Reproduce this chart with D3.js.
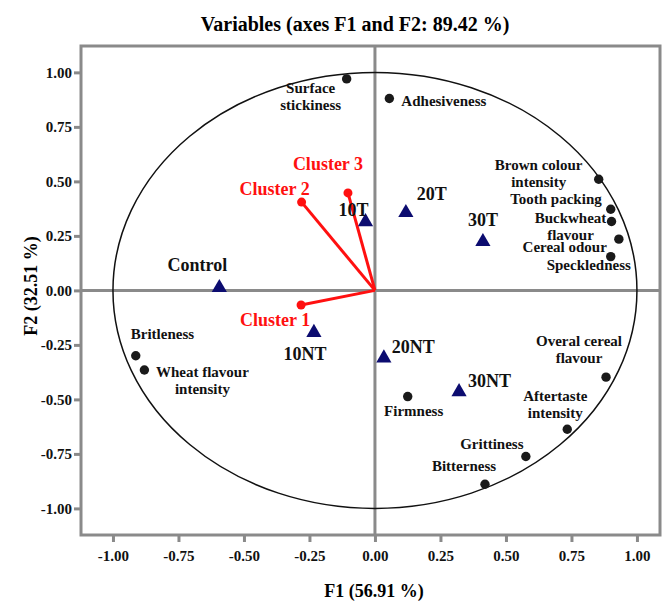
<!DOCTYPE html>
<html>
<head>
<meta charset="utf-8">
<script src="https://cdn.jsdelivr.net/npm/d3@7"></script>
<style>
  body { margin: 0; background: #fff; }
  svg text { font-family: 'Liberation Serif', 'Times New Roman', serif; font-weight: bold; }
</style>
</head>
<body>
<svg id="chart" width="663" height="602"></svg>
<script>
// sensory attributes (black dots)
const attrNames = [
  ['Surface', 'stickiness'], ['Adhesiveness'], ['Brown colour', 'intensity'],
  ['Tooth packing'], ['Buckwheat', 'flavour'], ['Cereal odour'], ['Speckledness'],
  ['Overal cereal', 'flavour'], ['Aftertaste', 'intensity'], ['Grittiness'],
  ['Bitterness'], ['Firmness'], ['Britleness'], ['Wheat flavour', 'intensity']
]
const attrF1 = [-0.108, 0.055, 0.854, 0.900, 0.903, 0.931, 0.900, 0.882, 0.734, 0.576, 0.420, 0.125, -0.913, -0.880]
const attrF2 = [0.970, 0.880, 0.510, 0.372, 0.316, 0.235, 0.155, -0.398, -0.637, -0.762, -0.889, -0.487, -0.300, -0.365]

// products (navy triangles)
const prodNames = ['Control', '10T', '20T', '30T', '10NT', '20NT', '30NT']
const prodF1 = [-0.594, -0.036, 0.118, 0.412, -0.233, 0.034, 0.321]
const prodF2 = [0.017, 0.319, 0.361, 0.228, -0.189, -0.306, -0.461]

// consumer clusters (red vectors)
const clusterNames = ['Cluster 1', 'Cluster 2', 'Cluster 3']
const clusterF1 = [-0.282, -0.280, -0.103]
const clusterF2 = [-0.067, 0.405, 0.447]

const xTicks = [-1, -0.75, -0.5, -0.25, 0, 0.25, 0.5, 0.75, 1]
const yTicks = [-1, -0.75, -0.5, -0.25, 0, 0.25, 0.5, 0.75, 1]

// label placement, pixel offsets from the mark: [dx, dy of first baseline, anchor]
const attrLabelPos = [
  [-36, 14, 'middle'], [12, 7, 'start'], [-60, -9, 'middle'], [-9, -5, 'end'],
  [-41, 2, 'middle'], [-12, 13, 'end'], [-22, 13, 'middle'], [-27, -31, 'middle'],
  [-12, -28, 'middle'], [-34, -8, 'middle'], [-21, -13, 'middle'], [6, 19, 'middle'],
  [-5, -17, 'start'], [58, 7, 'middle']
]
const prodLabelPos = [[-22, -16], [-12, -5], [26, -12], [0, -15], [-9, 28], [8, -4, 'start'], [9, -4, 'start']]
const clusterLabelPos = [[-26, 21], [-27, -7], [-20, -23]]

const svg = d3.select('#chart')
const mLeft = 81, mRight = 660, mTop = 46, mBottom = 535
const grey = '#8a8a8a'

const x = d3.scaleLinear().domain([-1.122, 1.088]).range([mLeft, mRight])
const y = d3.scaleLinear().domain([-1.122, 1.121]).range([mBottom, mTop])

// title
svg.append('text')
  .attr('x', 355).attr('y', 31)
  .attr('text-anchor', 'middle')
  .style('font-size', '20px')
  .text('Variables (axes F1 and F2: 89.42 %)')

// axes
const fmt = d => d.toFixed(2)
const gx = svg.append('g')
  .attr('transform', `translate(0,${mBottom})`)
  .call(d3.axisBottom(x).tickValues(xTicks).tickFormat(fmt).tickSize(7).tickSizeOuter(0))
const gy = svg.append('g')
  .attr('transform', `translate(${mLeft},0)`)
  .call(d3.axisLeft(y).tickValues(yTicks).tickFormat(fmt).tickSize(7).tickSizeOuter(0))
;[gx, gy].forEach(g => {
  g.select('.domain').remove()
  g.selectAll('line').attr('stroke', grey).attr('stroke-width', 3)
  g.selectAll('text').attr('fill', '#111').style('font-size', '15px')
    .style('font-family', "'Liberation Serif', serif").style('font-weight', 'bold')
})
gx.selectAll('text').attr('dy', '1.05em')
gy.selectAll('text').attr('x', -9)

// axis titles
svg.append('text')
  .attr('x', 374).attr('y', 597)
  .attr('text-anchor', 'middle')
  .style('font-size', '18px')
  .text('F1 (56.91 %)')
svg.append('text')
  .attr('transform', `translate(37,286) rotate(-90)`)
  .attr('text-anchor', 'middle')
  .style('font-size', '18px')
  .text('F2 (32.51 %)')

// frame and zero lines
svg.append('rect')
  .attr('x', mLeft).attr('y', mTop)
  .attr('width', mRight - mLeft).attr('height', mBottom - mTop)
  .attr('fill', 'none').attr('stroke', grey).attr('stroke-width', 3)
svg.append('line')
  .attr('x1', x(0)).attr('x2', x(0)).attr('y1', mTop).attr('y2', mBottom)
  .attr('stroke', grey).attr('stroke-width', 3)
svg.append('line')
  .attr('x1', mLeft).attr('x2', mRight).attr('y1', y(0)).attr('y2', y(0))
  .attr('stroke', grey).attr('stroke-width', 3)

// correlation circle
svg.append('ellipse')
  .attr('cx', x(0)).attr('cy', y(0))
  .attr('rx', x(1) - x(0)).attr('ry', y(0) - y(1))
  .attr('fill', 'none').attr('stroke', '#111').attr('stroke-width', 1.5)

// cluster vectors
const clusters = clusterNames.map((n, i) => ({ name: n, f1: clusterF1[i], f2: clusterF2[i], pos: clusterLabelPos[i] }))
svg.selectAll('.vec').data(clusters).enter().append('line')
  .attr('x1', x(0)).attr('y1', y(0))
  .attr('x2', d => x(d.f1)).attr('y2', d => y(d.f2))
  .attr('stroke', '#ff1010').attr('stroke-width', 3)
svg.selectAll('.vdot').data(clusters).enter().append('circle')
  .attr('cx', d => x(d.f1)).attr('cy', d => y(d.f2)).attr('r', 4.5)
  .attr('fill', '#ff1010')
svg.selectAll('.vlab').data(clusters).enter().append('text')
  .attr('x', d => x(d.f1) + d.pos[0]).attr('y', d => y(d.f2) + d.pos[1])
  .attr('text-anchor', 'middle')
  .attr('fill', '#ff1010')
  .style('font-size', '18px')
  .text(d => d.name)

// attributes
const attrs = attrNames.map((n, i) => ({ lines: n, f1: attrF1[i], f2: attrF2[i], pos: attrLabelPos[i] }))
svg.selectAll('.adot').data(attrs).enter().append('circle')
  .attr('cx', d => x(d.f1)).attr('cy', d => y(d.f2)).attr('r', 4.7)
  .attr('fill', '#1a1a1a')
const alab = svg.selectAll('.alab').data(attrs).enter().append('text')
  .attr('text-anchor', d => d.pos[2])
  .attr('fill', '#111')
  .style('font-size', '15px')
alab.each(function (d) {
  d3.select(this).selectAll('tspan').data(d.lines).enter().append('tspan')
    .attr('x', x(d.f1) + d.pos[0])
    .attr('y', (l, j) => y(d.f2) + d.pos[1] + j * 17)
    .text(l => l)
})

// products
const prods = prodNames.map((n, i) => ({ name: n, f1: prodF1[i], f2: prodF2[i], pos: prodLabelPos[i] }))
svg.selectAll('.tri').data(prods).enter().append('path')
  .attr('d', d3.symbol().type(d3.symbolTriangle).size(100))
  .attr('transform', d => `translate(${x(d.f1)},${y(d.f2) + 1})`)
  .attr('fill', '#0c0c70')
svg.selectAll('.plab').data(prods).enter().append('text')
  .attr('x', d => x(d.f1) + d.pos[0]).attr('y', d => y(d.f2) + d.pos[1])
  .attr('text-anchor', d => d.pos[2] || 'middle')
  .attr('fill', '#111')
  .style('font-size', '18px')
  .text(d => d.name)
</script>
</body>
</html>
